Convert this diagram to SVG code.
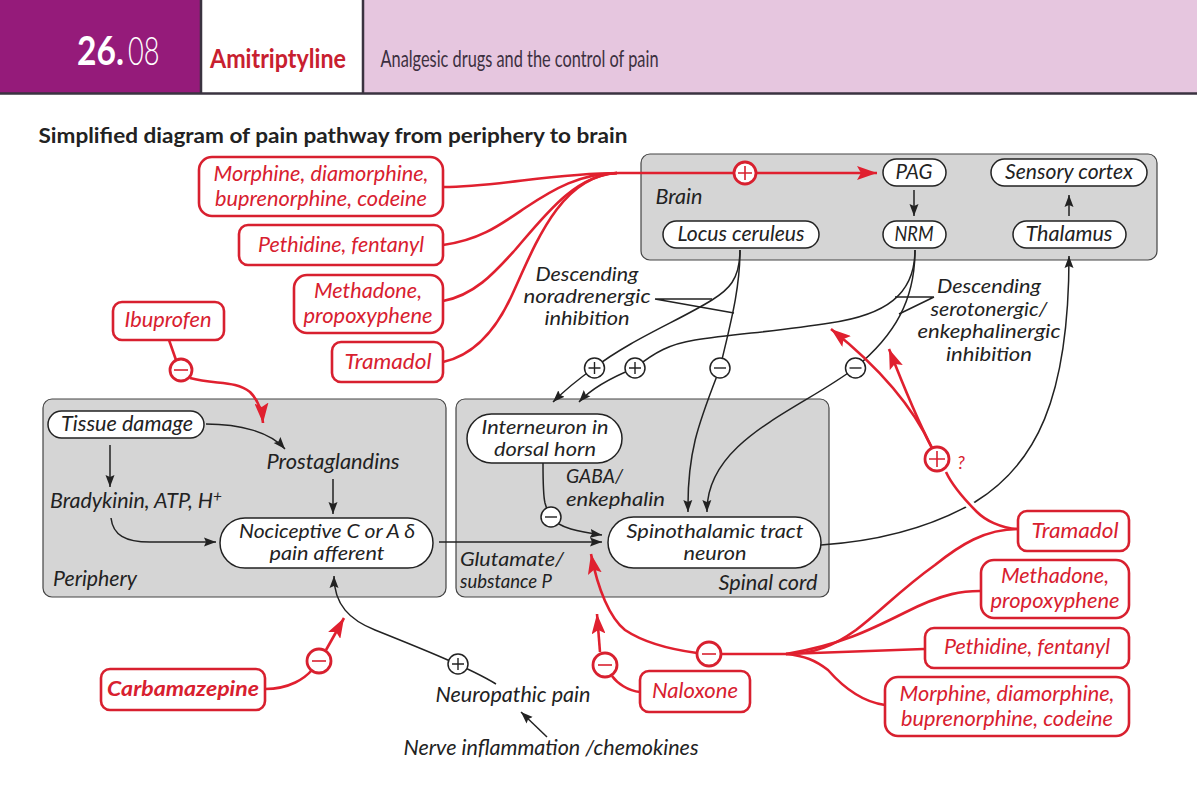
<svg xmlns="http://www.w3.org/2000/svg" width="1197" height="804" viewBox="0 0 1197 804">
<style>
text{font-family:Lato,"Noto Sans",sans-serif;text-anchor:middle;font-size:21px;font-style:italic;fill:#222}
.s{text-anchor:start}
.t{font-size:20px}
.r{fill:#d8202f}
.panel{fill:#d5d5d5;stroke:#444;stroke-width:1.2}
.n{fill:#fff;stroke:#222;stroke-width:1.5}
.d{fill:#fff;stroke:#d8202f;stroke-width:2.6}
.k{fill:none;stroke:#222;stroke-width:1.5}
.kn{fill:none;stroke:#222;stroke-width:1.5;marker-end:url(#ak)}
.rl{fill:none;stroke:#e0202f;stroke-width:2.6}
.ra{fill:none;stroke:#e0202f;stroke-width:2.6;marker-end:url(#ar)}
.c{fill:#fff;stroke:#222;stroke-width:1.5}
.cr{fill:#fff;stroke:#d8202f;stroke-width:2.8}
.sb{fill:none;stroke:#222;stroke-width:1.4}
.sr{fill:none;stroke:#d8202f;stroke-width:1.6}
</style>
<defs>
<marker id="ak" markerUnits="userSpaceOnUse" markerWidth="14" markerHeight="10" refX="12" refY="5" orient="auto"><path d="M0 0.500L12 5L0 9.500L2 5Z" fill="#222"/></marker>
<marker id="ar" markerUnits="userSpaceOnUse" markerWidth="22" markerHeight="14" refX="20" refY="7" orient="auto"><path d="M0 0L20 7L0 14L4 7Z" fill="#e0202f"/></marker>
</defs>
<rect width="1197" height="804" fill="#fff"/>
<g id="header">
<rect x="0" y="0" width="200" height="93" fill="#951b7a"/>
<rect x="364" y="0" width="833" height="93" fill="#e6c6df"/>
<path d="M0 93.500H1197M201 0V93M363 0V93" stroke="#3a3340" stroke-width="2.500" fill="none"/>
<text class="s" transform="translate(77 65) scale(.84 1)" style="font-style:normal;font-weight:700;font-size:40px;fill:#fff">26.</text>
<text class="s" transform="translate(128 65) scale(.68 1)" style="font-style:normal;font-weight:300;font-size:40px;fill:#fff">08</text>
<text x="278" y="68" style="font-style:normal;font-weight:700;font-size:27px;fill:#c8202f" textLength="136" lengthAdjust="spacingAndGlyphs">Amitriptyline</text>
<text x="519.500" y="67" style="font-style:normal;font-size:23px;fill:#3c3040" textLength="278" lengthAdjust="spacingAndGlyphs">Analgesic drugs and the control of pain</text>
<text x="333" y="143" style="font-style:normal;font-weight:700;font-size:21px" textLength="589" lengthAdjust="spacingAndGlyphs">Simplified diagram of pain pathway from periphery to brain</text>
</g>
<g id="panels">
<g id="brain"><rect class="panel" x="641" y="154" width="516" height="106" rx="9"/><text x="679" y="204" textLength="47" lengthAdjust="spacingAndGlyphs">Brain</text></g>
<g id="periphery"><rect class="panel" x="43" y="399" width="403" height="198" rx="9"/><text x="95" y="586" textLength="84" lengthAdjust="spacingAndGlyphs">Periphery</text></g>
<g id="spinal-cord"><rect class="panel" x="456" y="399" width="373" height="198" rx="9"/><text x="768" y="590" textLength="99" lengthAdjust="spacingAndGlyphs">Spinal cord</text></g>
</g>
<g id="connectors">
<path class="kn" d="M914 190V216"/>
<path class="kn" d="M1069 216V195"/>
<path class="kn" d="M110 445V487"/>
<path class="kn" d="M333 479V514"/>
<path class="kn" d="M206 424C240 424 270 432 285 449"/>
<path class="kn" d="M111 518C113 535 125 542 150 542H216"/>
<path class="kn" d="M439 542H602"/>
<path class="k" d="M543 463C543 480 543 495 545 503C547 510 549 514 551 517"/>
<path class="kn" d="M551 517C558 528 580 532 602 535"/>
<path class="k" d="M740 250C740 280 728 290 712 300C680 320 630 340 594 368"/>
<path class="kn" d="M594 368C580 378 565 390 553 402"/>
<path class="k" d="M915 250C915 295 885 315 830 323C780 331 735 334 695 340C670 344 655 352 635 368"/>
<path class="kn" d="M635 368C610 378 590 390 579 402"/>
<path class="k" d="M740 250C740 290 730 325 720 368"/>
<path class="kn" d="M720 368C700 420 687 450 688 512"/>
<path class="k" d="M915 250C915 300 895 335 855 368"/>
<path class="kn" d="M855 368C800 410 706 440 707 512"/>
<path class="kn" d="M821 545C880 541 930 528 975 502C1035 465 1069 400 1069 256"/>
<path class="kn" d="M496 684C470 668 420 648 375 630C350 620 334 605 334 576"/>
<path class="kn" d="M547 737L521 712"/>
<path class="k" d="M655 299H712M655 299L734 313"/>
<path class="k" d="M934 297H895M934 297L899 314"/>
<path class="rl" d="M443 187C500 187 550 173 620 173H735"/>
<path class="ra" d="M755 173H877"/>
<path class="rl" d="M443 245C480 240 500 225 525 208C555 188 580 174 617 173"/>
<path class="rl" d="M443 301C475 295 495 272 515 250C545 215 575 175 617 173"/>
<path class="rl" d="M443 362C475 355 497 328 512 295C535 245 560 176 617 173"/>
<path class="rl" d="M169 340L176 360"/>
<path class="ra" d="M190 378C215 385 235 380 250 392C258 400 262 410 263 423"/>
<path d="M1018 529C1000 528 985 520 975 510C962 497 952 485 946 472" fill="none" stroke="#fff" stroke-width="9"/>
<path class="rl" d="M1018 529C1000 528 985 520 977 512C962 497 952 485 946 472"/>
<path class="ra" d="M932 448C910 400 870 360 831 329"/>
<path class="ra" d="M932 448C920 425 905 390 889 349"/>
<path class="rl" d="M1018 529C985 529 960 545 935 565C900 590 880 612 856 630C835 645 815 654 786 654H720"/>
<path class="rl" d="M980 591C965 591 945 592 904 613C870 630 840 645 786 654"/>
<path class="rl" d="M924 649L786 654"/>
<path class="rl" d="M885 705C870 703 850 695 828 670C815 660 805 656 786 654"/>
<path class="ra" d="M697 653C660 648 640 640 625 630C610 618 598 590 591 554"/>
<path class="rl" d="M640 692C628 691 617 683 612 676"/>
<path class="ra" d="M600 652L597 614"/>
<path class="rl" d="M265 689C290 689 305 678 312 670"/>
<path class="ra" d="M326 650L344 618"/>
</g>
<g id="signs">
<g id="s1"><circle class="cr" cx="745" cy="173" r="11"/><path class="sr" d="M738 173H752M745 166V180"/></g>
<g id="s2"><circle class="cr" cx="181" cy="370" r="11"/><path class="sr" d="M174 370H188"/></g>
<g id="s3"><circle class="cr" cx="937" cy="459" r="12"/><path class="sr" d="M929 459H945M937 451V467"/><text class="r" x="961" y="469" style="font-size:18px">?</text></g>
<g id="s4"><circle class="cr" cx="709" cy="654" r="12"/><path class="sr" d="M702 654H716"/></g>
<g id="s5"><circle class="cr" cx="605" cy="665" r="12"/><path class="sr" d="M598 665H612"/></g>
<g id="s6"><circle class="cr" cx="319" cy="661" r="12"/><path class="sr" d="M312 661H326"/></g>
<g id="s7"><circle class="c" cx="594.500" cy="368" r="10"/><path class="sb" d="M588.500 368H600.500M594.500 362V374"/></g>
<g id="s8"><circle class="c" cx="635" cy="368" r="10"/><path class="sb" d="M629 368H641M635 362V374"/></g>
<g id="s9"><circle class="c" cx="720" cy="368" r="10"/><path class="sb" d="M714 368H726"/></g>
<g id="s10"><circle class="c" cx="855.500" cy="368" r="10"/><path class="sb" d="M849.500 368H861.500"/></g>
<g id="s11"><circle class="c" cx="551" cy="517" r="10"/><path class="sb" d="M545 517H557"/></g>
<g id="s12"><circle class="c" cx="458" cy="664" r="10"/><path class="sb" d="M452 664H464M458 658V670"/></g>
</g>
<g id="pag"><rect class="n" x="883" y="159" width="63" height="27" rx="13.500"/><text x="914" y="179" textLength="37" lengthAdjust="spacingAndGlyphs">PAG</text></g>
<g id="sensory-cortex"><rect class="n" x="991" y="159" width="156" height="27" rx="13.500"/><text x="1069" y="179" textLength="128" lengthAdjust="spacingAndGlyphs">Sensory cortex</text></g>
<g id="locus-ceruleus"><rect class="n" x="663" y="221" width="156" height="27" rx="13.500"/><text x="741" y="241" textLength="127" lengthAdjust="spacingAndGlyphs">Locus ceruleus</text></g>
<g id="nrm"><rect class="n" x="883" y="221" width="63" height="27" rx="13.500"/><text x="914" y="241" textLength="39" lengthAdjust="spacingAndGlyphs">NRM</text></g>
<g id="thalamus"><rect class="n" x="1013" y="221" width="113" height="27" rx="13.500"/><text x="1069" y="241" textLength="87" lengthAdjust="spacingAndGlyphs">Thalamus</text></g>
<g id="tissue-damage"><rect class="n" x="48" y="411" width="156" height="27" rx="13.500"/><text x="127" y="431" textLength="132" lengthAdjust="spacingAndGlyphs">Tissue damage</text></g>
<g id="prostaglandins"><text x="333" y="469" textLength="133" lengthAdjust="spacingAndGlyphs">Prostaglandins</text></g>
<g id="bradykinin"><text x="136" y="508" textLength="172" lengthAdjust="spacingAndGlyphs">Bradykinin, ATP, H<tspan dy="-6" font-size="15">+</tspan></text></g>
<g id="nociceptive"><rect class="n" x="220" y="518" width="213" height="50" rx="25"/><text class="t" x="327" y="538" textLength="176" lengthAdjust="spacingAndGlyphs">Nociceptive C or A δ</text><text class="t" x="327" y="560" textLength="115" lengthAdjust="spacingAndGlyphs">pain afferent</text></g>
<g id="interneuron"><rect class="n" x="467" y="414" width="155" height="49" rx="24.500"/><text class="t" x="545" y="434" textLength="127" lengthAdjust="spacingAndGlyphs">Interneuron in</text><text class="t" x="545" y="456" textLength="102" lengthAdjust="spacingAndGlyphs">dorsal horn</text></g>
<g id="spinothalamic"><rect class="n" x="608" y="517" width="213" height="51" rx="25.500"/><text class="t" x="715" y="538" textLength="177" lengthAdjust="spacingAndGlyphs">Spinothalamic tract</text><text class="t" x="715" y="560" textLength="63" lengthAdjust="spacingAndGlyphs">neuron</text></g>
<g id="gaba"><text class="s t" x="566" y="483" textLength="57" lengthAdjust="spacingAndGlyphs">GABA/</text><text class="s t" x="566" y="506" textLength="99" lengthAdjust="spacingAndGlyphs">enkephalin</text></g>
<g id="glutamate"><text class="s t" x="460" y="566" textLength="104" lengthAdjust="spacingAndGlyphs">Glutamate/</text><text class="s t" x="460" y="588" textLength="92" lengthAdjust="spacingAndGlyphs">substance P</text></g>
<g id="desc-nor"><text class="t" x="587" y="281" textLength="103" lengthAdjust="spacingAndGlyphs">Descending</text><text class="t" x="587" y="303" textLength="127" lengthAdjust="spacingAndGlyphs">noradrenergic</text><text class="t" x="587" y="325" textLength="85" lengthAdjust="spacingAndGlyphs">inhibition</text></g>
<g id="desc-ser"><text class="t" x="989" y="293" textLength="104" lengthAdjust="spacingAndGlyphs">Descending</text><text class="t" x="989" y="316" textLength="117" lengthAdjust="spacingAndGlyphs">serotonergic/</text><text class="t" x="989" y="338" textLength="143" lengthAdjust="spacingAndGlyphs">enkephalinergic</text><text class="t" x="989" y="361" textLength="86" lengthAdjust="spacingAndGlyphs">inhibition</text></g>
<g id="neuropathic"><text x="513" y="702" textLength="155" lengthAdjust="spacingAndGlyphs">Neuropathic pain</text></g>
<g id="nerve"><text x="551" y="755" textLength="295" lengthAdjust="spacingAndGlyphs">Nerve inflammation /chemokines</text></g>
<g id="morphine-l"><rect class="d" x="199" y="157" width="244" height="59" rx="13"/><text class="r" x="321" y="181" textLength="215" lengthAdjust="spacingAndGlyphs">Morphine, diamorphine,</text><text class="r" x="321" y="206" textLength="212" lengthAdjust="spacingAndGlyphs">buprenorphine, codeine</text></g>
<g id="pethidine-l"><rect class="d" x="239" y="225" width="204" height="40" rx="9"/><text class="r" x="341" y="252" textLength="166" lengthAdjust="spacingAndGlyphs">Pethidine, fentanyl</text></g>
<g id="methadone-l"><rect class="d" x="294" y="275" width="149" height="58" rx="13"/><text class="r" x="368" y="298" textLength="108" lengthAdjust="spacingAndGlyphs">Methadone,</text><text class="r" x="368" y="323" textLength="129" lengthAdjust="spacingAndGlyphs">propoxyphene</text></g>
<g id="tramadol-l"><rect class="d" x="332" y="342" width="111" height="40" rx="9"/><text class="r" x="388" y="369" textLength="87" lengthAdjust="spacingAndGlyphs">Tramadol</text></g>
<g id="ibuprofen"><rect class="d" x="113" y="302" width="111" height="38" rx="9"/><text class="r" x="168" y="327" textLength="87" lengthAdjust="spacingAndGlyphs">Ibuprofen</text></g>
<g id="tramadol-r"><rect class="d" x="1018" y="511" width="111" height="40" rx="9"/><text class="r" x="1075" y="538" textLength="87" lengthAdjust="spacingAndGlyphs">Tramadol</text></g>
<g id="methadone-r"><rect class="d" x="981" y="560" width="148" height="58" rx="13"/><text class="r" x="1055" y="583" textLength="108" lengthAdjust="spacingAndGlyphs">Methadone,</text><text class="r" x="1055" y="608" textLength="129" lengthAdjust="spacingAndGlyphs">propoxyphene</text></g>
<g id="pethidine-r"><rect class="d" x="925" y="628" width="204" height="40" rx="9"/><text class="r" x="1027" y="654" textLength="166" lengthAdjust="spacingAndGlyphs">Pethidine, fentanyl</text></g>
<g id="morphine-r"><rect class="d" x="885" y="677" width="244" height="59" rx="13"/><text class="r" x="1007" y="701" textLength="215" lengthAdjust="spacingAndGlyphs">Morphine, diamorphine,</text><text class="r" x="1007" y="726" textLength="212" lengthAdjust="spacingAndGlyphs">buprenorphine, codeine</text></g>
<g id="naloxone"><rect class="d" x="640" y="671" width="110" height="41" rx="9"/><text class="r" x="695" y="698" textLength="86" lengthAdjust="spacingAndGlyphs">Naloxone</text></g>
<g id="carbamazepine"><rect class="d" x="101" y="669" width="164" height="41" rx="9"/><text class="r" x="183" y="696" style="font-weight:700" textLength="152" lengthAdjust="spacingAndGlyphs">Carbamazepine</text></g>
</svg>
